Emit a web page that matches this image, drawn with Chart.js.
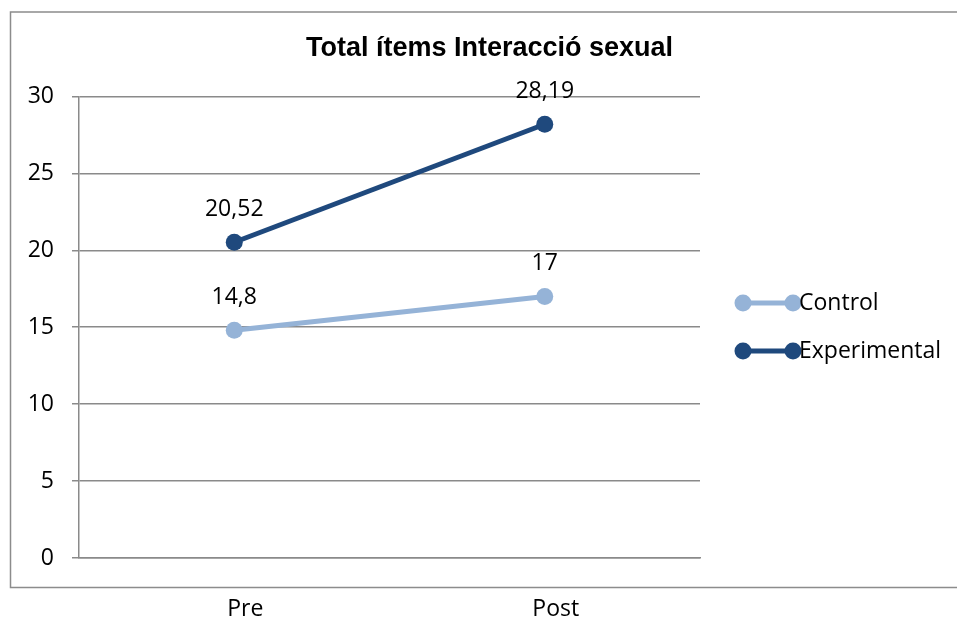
<!DOCTYPE html>
<html>
<head>
<meta charset="utf-8">
<script src="https://cdn.jsdelivr.net/npm/chart.js@4"></script>
<style>
  html, body { margin: 0; padding: 0; background: #fff; }
  #wrap { width: 957px; height: 620px; }
</style>
</head>
<body>
<div id="wrap"><canvas id="chart" width="957" height="620"></canvas></div>
<script>
// dades del gràfic
const categories = ['Pre', 'Post'];
const seriesNames = ['Control', 'Experimental'];
const controlValues = [14.8, 17];
const experimentalValues = [20.52, 28.19];
const yTicks = [0, 5, 10, 15, 20, 25, 30];
const chartTitle = 'Total ítems Interacció sexual';

const colors = ['#95B3D7', '#1F497D'];
const gridColor = '#8a8a8a';
const textFont = "'Open Sans', sans-serif";
const textSize = 23;

// marc exterior del gràfic
const framePlugin = {
    id: 'frame',
    beforeDraw(chart) {
        const ctx = chart.ctx;
        ctx.save();
        ctx.strokeStyle = '#8c8c8c';
        ctx.lineWidth = 1.5;
        ctx.beginPath();
        ctx.moveTo(chart.width + 2, 12);
        ctx.lineTo(10.5, 12);
        ctx.lineTo(10.5, 587.5);
        ctx.lineTo(chart.width + 2, 587.5);
        ctx.stroke();
        ctx.restore();
    }
};

// etiquetes de valor sobre cada punt
const valueLabels = {
    id: 'valueLabels',
    afterDatasetsDraw(chart) {
        const ctx = chart.ctx;
        ctx.save();
        ctx.font = `${textSize}px ${textFont}`;
        ctx.fillStyle = '#000';
        ctx.textAlign = 'center';
        ctx.textBaseline = 'middle';
        chart.data.datasets.forEach((ds, i) => {
            chart.getDatasetMeta(i).data.forEach((pt, j) => {
                const txt = String(ds.data[j]).replace('.', ',');
                ctx.fillText(txt, pt.x, pt.y - 33);
            });
        });
        ctx.restore();
    }
};

// llegenda a la dreta: línia amb dos punts
const sideLegend = {
    id: 'sideLegend',
    afterDraw(chart) {
        const ctx = chart.ctx;
        ctx.save();
        ctx.font = `${textSize}px ${textFont}`;
        ctx.textBaseline = 'middle';
        ctx.textAlign = 'left';
        chart.data.datasets.forEach((ds, i) => {
            const y = 303 + i * 48;
            ctx.strokeStyle = ds.borderColor;
            ctx.fillStyle = ds.borderColor;
            ctx.lineWidth = 5;
            ctx.beginPath();
            ctx.moveTo(743, y);
            ctx.lineTo(793, y);
            ctx.stroke();
            [743, 793].forEach(x => {
                ctx.beginPath();
                ctx.arc(x, y, 8.5, 0, Math.PI * 2);
                ctx.fill();
            });
            ctx.fillStyle = '#000';
            ctx.fillText(ds.label, 799, y);
        });
        ctx.restore();
    }
};

const datasets = [controlValues, experimentalValues].map((vals, i) => ({
    label: seriesNames[i],
    data: vals,
    borderColor: colors[i],
    backgroundColor: colors[i],
    borderWidth: 5,
    pointRadius: 8.5,
    pointHoverRadius: 8.5,
    pointBorderWidth: 0,
    tension: 0
}));

new Chart(document.getElementById('chart'), {
    type: 'line',
    data: { labels: categories, datasets: datasets },
    plugins: [framePlugin, valueLabels, sideLegend],
    options: {
        responsive: false,
        animation: false,
        layout: { padding: { left: 22, top: 12, right: 0, bottom: 0 } },
        plugins: {
            legend: { display: false },
            tooltip: { enabled: false },
            title: {
                display: true,
                text: chartTitle,
                color: '#000',
                font: { family: "'Liberation Sans', Arial, sans-serif", size: 27, weight: 'bold' },
                padding: { top: 20, bottom: 32 }
            }
        },
        scales: {
            x: {
                offset: true,
                afterFit: axis => { axis.height = 62; },
                grid: { display: false, drawTicks: false },
                border: { display: true, color: gridColor, width: 1.5 },
                ticks: {
                    color: '#000',
                    font: { family: textFont, size: textSize },
                    padding: 38,
                    labelOffset: 11
                }
            },
            y: {
                min: 0,
                max: 30,
                afterBuildTicks: axis => { axis.ticks = yTicks.map(v => ({ value: v })); },
                afterFit: axis => { axis.width = 57; },
                grid: { color: gridColor, lineWidth: 1.5, tickLength: 7, drawTicks: true },
                border: { display: true, color: gridColor, width: 1.5 },
                ticks: {
                    color: '#000',
                    font: { family: textFont, size: textSize },
                    padding: 18
                }
            },
            side: {
                type: 'linear',
                position: 'right',
                display: true,
                grid: { display: false, drawTicks: false },
                border: { display: false },
                ticks: { display: false },
                afterFit: axis => { axis.width = 257; }
            }
        }
    }
});
</script>
</body>
</html>
